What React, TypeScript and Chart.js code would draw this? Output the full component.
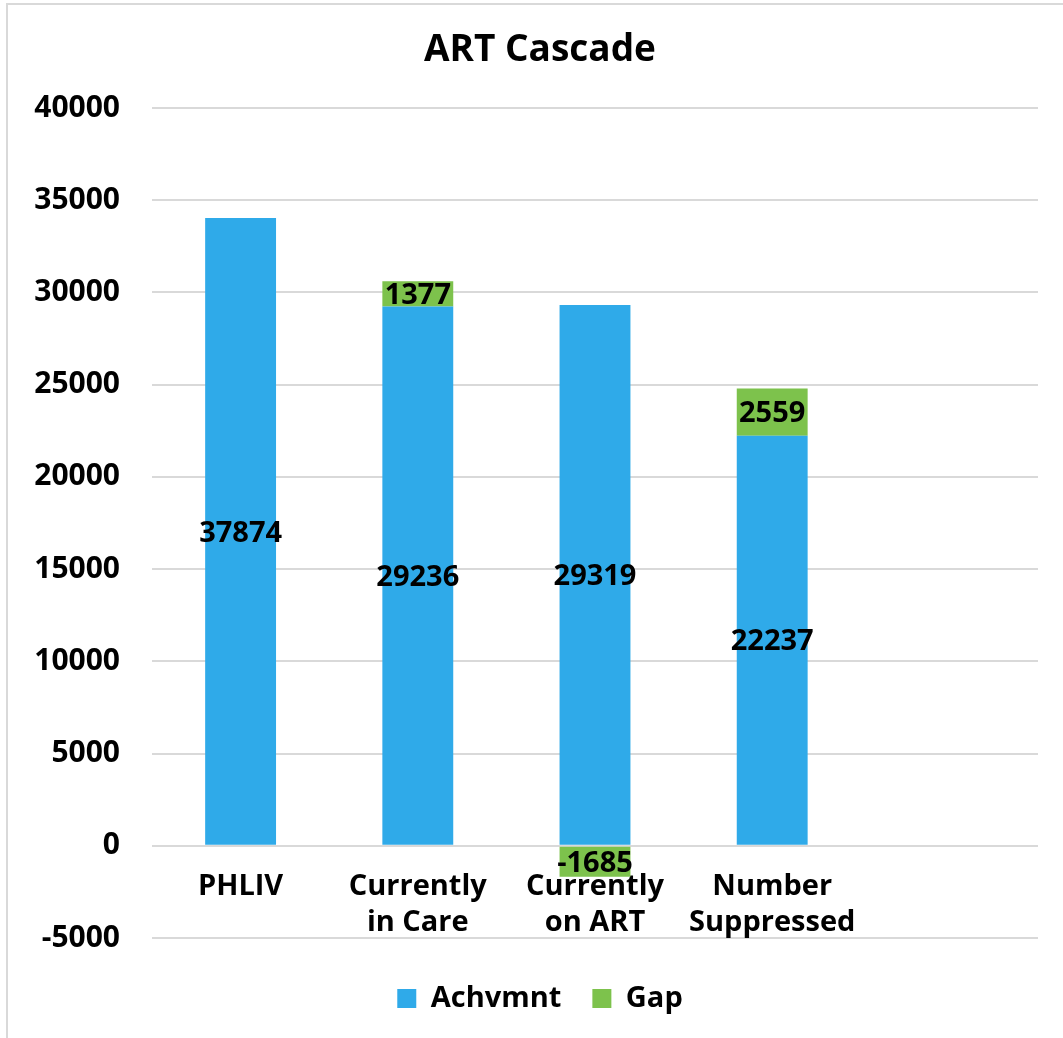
import React, { useEffect, useRef } from 'react';
import { Chart, registerables } from 'chart.js';

Chart.register(...registerables);

const categories: string[][] = [['PHLIV'], ['Currently', 'in Care'], ['Currently', 'on ART'], ['Number', 'Suppressed'], ['']];
const achievement: (number | null)[] = [34040, 29236, 29319, 22237, null];
const gap: (number | null)[] = [null, 1377, -1685, 2559, null];
const achievementLabels: string[] = ['37874', '29236', '29319', '22237', ''];
const gapLabels: string[] = ['', '1377', '-1685', '2559', ''];
const yMin = -5000;
const yMax = 40000;
const yStep = 5000;

const FONT = "'Open Sans', 'DejaVu Sans', sans-serif";
const BLUE = '#2FAAE9';
const GREEN = '#7DC24C';

const borderPlugin = {
  id: 'frameBorder',
  beforeDraw(chart: any) {
    const { ctx, width, height } = chart;
    ctx.save();
    ctx.fillStyle = '#ffffff';
    ctx.fillRect(0, 0, width, height);
    ctx.strokeStyle = '#d9d9d9';
    ctx.lineWidth = 2;
    ctx.beginPath();
    ctx.moveTo(7, height);
    ctx.lineTo(7, 4);
    ctx.lineTo(width, 4);
    ctx.stroke();
    ctx.restore();
  },
};

// let the y tick labels extend into the left padding without being clipped
const unclipYPlugin = {
  id: 'unclipY',
  afterLayout(chart: any) {
    const y = chart.scales.y;
    if (y) y.left = 0;
  },
};

const valueLabelPlugin = {
  id: 'valueLabels',
  afterDatasetsDraw(chart: any) {
    const { ctx } = chart;
    const labelSets = [achievementLabels, gapLabels];
    ctx.save();
    ctx.font = `bold 29px ${FONT}`;
    ctx.fillStyle = '#000000';
    ctx.textAlign = 'center';
    ctx.textBaseline = 'middle';
    chart.data.datasets.forEach((ds: any, di: number) => {
      const meta = chart.getDatasetMeta(di);
      meta.data.forEach((el: any, i: number) => {
        const v = ds.data[i];
        const txt = labelSets[di][i];
        if (v === null || v === undefined || !txt) return;
        const { x, y, base } = el.getProps(['x', 'y', 'base'], true);
        ctx.fillText(txt, x, (y + base) / 2 + 2);
      });
    });
    ctx.restore();
  },
};

export default function App() {
  const canvasRef = useRef<HTMLCanvasElement | null>(null);

  useEffect(() => {
    document.body.style.margin = '0';
    const canvas = canvasRef.current;
    if (!canvas) return;
    const chart = new Chart(canvas, {
      type: 'bar',
      data: {
        labels: categories,
        datasets: [
          {
            label: 'Achvmnt',
            data: achievement,
            backgroundColor: BLUE,
            borderWidth: 0,
            stack: 's',
          },
          {
            label: 'Gap',
            data: gap,
            backgroundColor: GREEN,
            borderWidth: 0,
            stack: 's',
          },
        ],
      },
      options: {
        animation: false,
        responsive: false,
        maintainAspectRatio: false,
        layout: { padding: { left: 42, right: 25, top: 0, bottom: 15 } },
        datasets: {
          bar: { categoryPercentage: 1, barPercentage: 0.4 },
        },
        plugins: {
          title: {
            display: true,
            text: 'ART Cascade',
            color: '#000000',
            font: { family: FONT, size: 37, weight: 'bold', lineHeight: 1.2 },
            padding: { top: 28, bottom: 35.6 },
          },
          legend: {
            display: true,
            position: 'bottom',
            title: { display: true, text: '', font: { size: 1, lineHeight: 1 }, padding: { top: 14, bottom: 0 } },
            labels: {
              color: '#000000',
              font: { family: FONT, size: 29, weight: 'bold' },
              boxWidth: 19,
              boxHeight: 19,
              padding: 31,
            },
          },
          tooltip: { enabled: false },
        },
        scales: {
          x: {
            stacked: true,
            position: { y: 0 } as any,
            grid: { display: false, drawTicks: false },
            border: { display: false },
            ticks: {
              color: '#000000',
              font: { family: FONT, size: 29, weight: 'bold', lineHeight: 1.24 },
              padding: 23,
              maxRotation: 0,
              autoSkip: false,
            },
          },
          y: {
            stacked: true,
            min: yMin,
            max: yMax,
            grid: { color: '#d9d9d9', lineWidth: 2, drawTicks: false },
            border: { display: false },
            afterFit: (scale: any) => {
              scale.width = 110;
            },
            ticks: {
              stepSize: yStep,
              color: '#000000',
              font: { family: FONT, size: 30, weight: 'bold' },
              padding: 32,
              callback: (v: any) => String(v),
            },
          },
        },
      },
      plugins: [borderPlugin, unclipYPlugin, valueLabelPlugin],
    });
    return () => chart.destroy();
  }, []);

  return <canvas ref={canvasRef} width={1063} height={1038} style={{ display: 'block' }} />;
}
